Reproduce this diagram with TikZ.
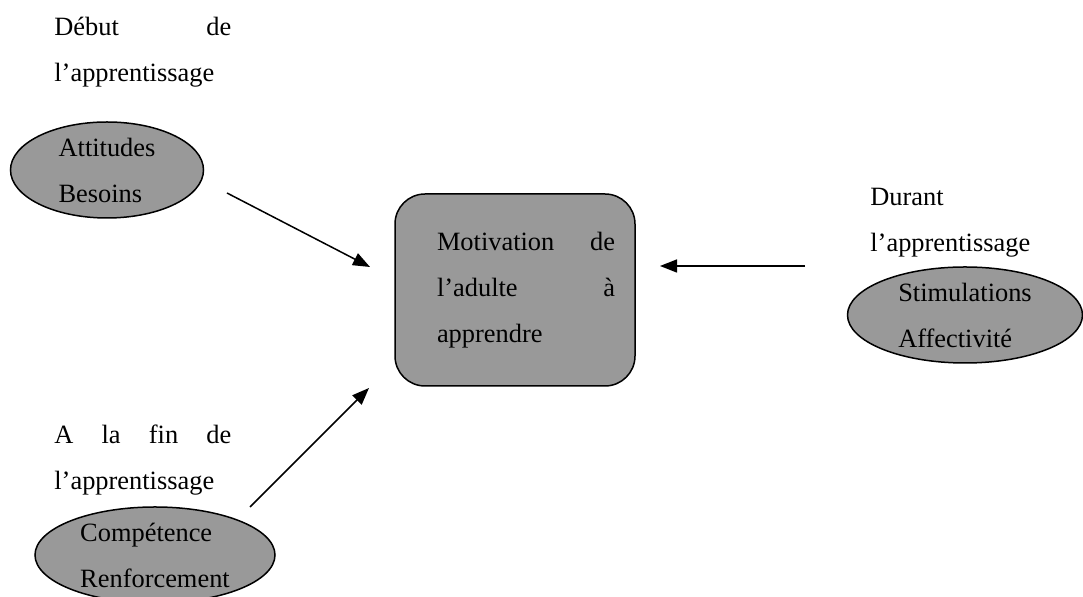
\documentclass[tikz,border=0pt]{standalone}
\usepackage{fontspec}
\setmainfont{Liberation Serif}
\usetikzlibrary{shapes.geometric,arrows.meta}
\definecolor{ovalgray}{RGB}{153,153,153}

\begin{document}
\begin{tikzpicture}[x=0.5pt, y=-0.5pt,
    every node/.style={font=\fontsize{13.2pt}{23pt}\selectfont},
    oval/.style={draw={black}, fill=ovalgray, line width=0.75pt, ellipse, inner sep=0pt, align=left},
    phase/.style={anchor=base west, inner sep=0pt, text width=88.5pt, align=left},
    flow/.style={line width=0.75pt, -{Triangle[length=8.5pt, width=6.5pt]}}]
\useasboundingbox (0,0) rectangle (1083,597);

\node [phase] (debut) at (54,36) {Début\hfill de\\l’apprentissage};
\node [oval, minimum width=96.5pt, minimum height=48pt] (attitudes) at (107,170) {Attitudes\\Besoins};

\node [draw={black}, fill=ovalgray, line width=0.75pt, rectangle, rounded corners=15pt, minimum width=120pt, minimum height=96pt, inner sep=0pt, text width=100pt, align=left] (motivation) at (515,290) {\leftskip=11pt Motivation\hfill de\\l’adulte\hfill à\\apprendre\par};

\node [phase] (durant) at (870,206) {Durant\\l’apprentissage};
\node [oval, minimum width=117.5pt, minimum height=48pt] (stimulations) at (965,315) {Stimulations\\Affectivité};

\node [phase] (fin) at (54,444) {A\hfill la\hfill fin\hfill de\\l’apprentissage};
\node [oval, minimum width=120pt, minimum height=48pt] (competence) at (155,555) {Compétence\\Renforcement};

% free ends of the arrows
\coordinate (attitudes-out) at (227,193);
\coordinate (motivation-nw) at (370,267);
\coordinate (stimulations-out) at (805,266);
\coordinate (motivation-e) at (660,266);
\coordinate (competence-out) at (250,507);
\coordinate (motivation-sw) at (369,388);

\draw [flow] (attitudes-out) -- (motivation-nw);
\draw [flow] (stimulations-out) -- (motivation-e);
\draw [flow] (competence-out) -- (motivation-sw);
\end{tikzpicture}
\end{document}
